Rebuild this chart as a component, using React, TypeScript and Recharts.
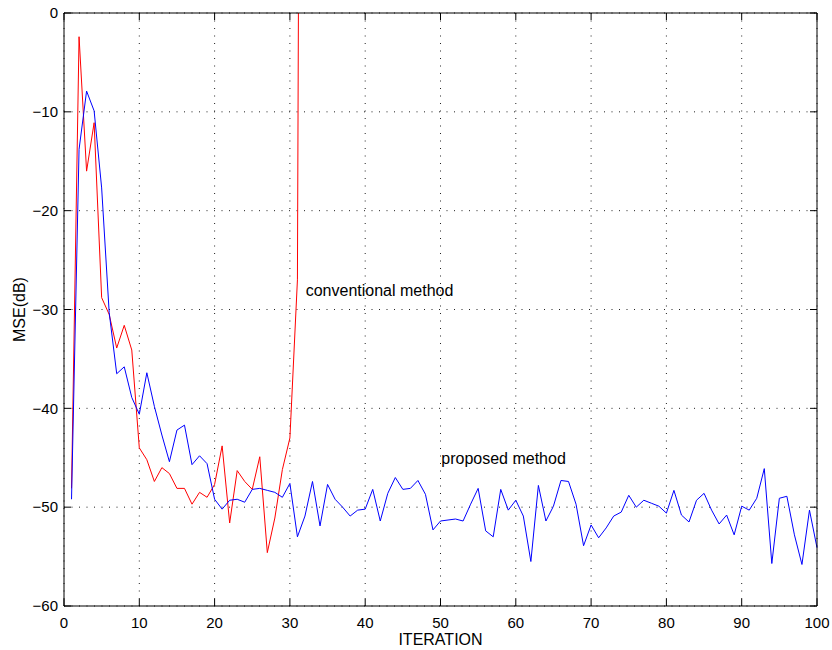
import {
  CartesianGrid,
  Line,
  LineChart,
  ReferenceDot,
  XAxis,
  YAxis,
} from "recharts";

const iterations = Array.from({ length: 100 }, (_, i) => i + 1);

const proposed = [
  -49.2, -13.8, -7.9, -9.9, -17.7, -30.3, -36.5, -35.8, -38.9, -40.6,
  -36.4, -39.8, -42.7, -45.4, -42.2, -41.7, -45.7, -44.8, -45.6, -49.2,
  -50.2, -49.3, -49.2, -49.5, -48.2, -48.1, -48.3, -48.5, -49.0, -47.6,
  -53.0, -50.9, -47.4, -51.9, -47.7, -49.2, -50.0, -50.9, -50.3, -50.2,
  -48.2, -51.4, -48.6, -47.0, -48.2, -48.1, -47.3, -48.7, -52.3, -51.4,
  -51.3, -51.2, -51.4, -49.7, -48.1, -52.4, -53.0, -48.2, -50.3, -49.3,
  -50.9, -55.5, -47.8, -51.4, -49.9, -47.3, -47.4, -49.7, -53.9, -51.8,
  -53.1, -52.1, -50.9, -50.5, -48.8, -50.0, -49.3, -49.6, -49.9, -50.6,
  -48.3, -50.8, -51.5, -49.3, -48.6, -50.3, -51.7, -50.8, -52.8, -49.9,
  -50.3, -49.1, -46.1, -55.7, -49.1, -48.9, -52.8, -55.8, -50.3, -54.1,
];

// diverges after iteration 31 (goes far off the top of the axes)
const conventional = [
  -48.1, -2.4, -16.0, -11.1, -28.8, -30.5, -33.9, -31.6, -34.1, -44.0,
  -45.2, -47.4, -46.0, -46.6, -48.1, -48.1, -49.7, -48.5, -49.0, -47.7,
  -43.8, -51.6, -46.3, -47.4, -48.2, -44.9, -54.6, -51.1, -46.2, -43.0,
  -27.0, 180,
];

const xTicks = [0, 10, 20, 30, 40, 50, 60, 70, 80, 90, 100];
const yTicks = [-60, -50, -40, -30, -20, -10, 0];

const convLabel = { x: 32.1, y: -28.1, text: "conventional method" };
const propLabel = { x: 50.1, y: -45.1, text: "proposed method" };

const data = iterations.map((it, i) => ({
  it,
  proposed: proposed[i],
  conventional: i < conventional.length ? conventional[i] : null,
}));

const font = '"Liberation Sans", Arial, Helvetica, sans-serif';
const fmt = (v: number) => String(v).replace("-", "\u2212");

export default function App() {
  return (
    <div style={{ position: "absolute", left: 0, top: 0, background: "#fff", fontFamily: font }}>
      <LineChart width={832} height={650} data={data} margin={{ top: 0, right: 0, left: 0, bottom: 0 }}>
        <CartesianGrid stroke="#222" strokeDasharray="1 6.5" />
        <XAxis
          dataKey="it"
          type="number"
          domain={[0, 100]}
          ticks={xTicks}
          height={44}
          axisLine={{ stroke: "#000" }}
          tickLine={{ stroke: "#000" }}
          tickSize={-7}
          tickMargin={18}
          tick={{ fill: "#000", fontSize: 15, fontFamily: font }}
          label={{ value: "ITERATION", position: "insideBottom", offset: 5, fill: "#000", fontSize: 16, fontFamily: font }}
        />
        <XAxis
          xAxisId="top"
          orientation="top"
          dataKey="it"
          type="number"
          domain={[0, 100]}
          ticks={xTicks}
          height={13}
          axisLine={{ stroke: "#000" }}
          tickLine={{ stroke: "#000" }}
          tickSize={-7}
          tickFormatter={() => ""}
        />
        <YAxis
          type="number"
          domain={[-60, 0]}
          ticks={yTicks}
          allowDataOverflow
          width={64}
          axisLine={{ stroke: "#000" }}
          tickLine={{ stroke: "#000" }}
          tickSize={-7}
          tickMargin={13}
          tickFormatter={fmt}
          tick={{ fill: "#000", fontSize: 15, fontFamily: font }}
          label={{
            value: "MSE(dB)",
            angle: -90,
            position: "insideLeft",
            offset: 19,
            fill: "#000",
            fontSize: 16,
            fontFamily: font,
            style: { textAnchor: "middle" },
          }}
        />
        <YAxis
          yAxisId="right"
          orientation="right"
          type="number"
          domain={[-60, 0]}
          ticks={yTicks}
          allowDataOverflow
          width={15}
          axisLine={{ stroke: "#000" }}
          tickLine={{ stroke: "#000" }}
          tickSize={-7}
          tickFormatter={() => ""}
        />
        <Line
          dataKey="conventional"
          stroke="#ff0000"
          strokeWidth={1}
          dot={false}
          activeDot={false}
          connectNulls={false}
          isAnimationActive={false}
        />
        <Line
          dataKey="proposed"
          stroke="#0000ff"
          strokeWidth={1}
          dot={false}
          activeDot={false}
          isAnimationActive={false}
        />
        <ReferenceDot
          x={convLabel.x}
          y={convLabel.y}
          r={0}
          fill="none"
          stroke="none"
          label={{ value: convLabel.text, position: "right", offset: 0, fill: "#000", fontSize: 16, fontFamily: font }}
        />
        <ReferenceDot
          x={propLabel.x}
          y={propLabel.y}
          r={0}
          fill="none"
          stroke="none"
          label={{ value: propLabel.text, position: "right", offset: 0, fill: "#000", fontSize: 16, fontFamily: font }}
        />
      </LineChart>
    </div>
  );
}
